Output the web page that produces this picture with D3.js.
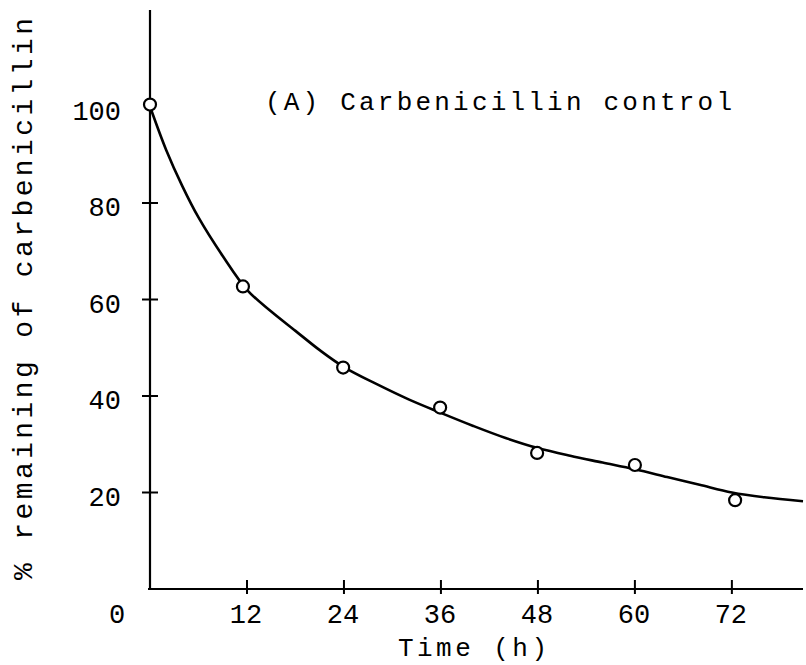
<!DOCTYPE html>
<html>
<head>
<meta charset="utf-8">
<script src="https://cdn.jsdelivr.net/npm/d3@7"></script>
<style>
  html, body { margin: 0; padding: 0; background: #fff; }
  svg text { font-family: "Liberation Mono", "Courier New", monospace; fill: #000; }
</style>
</head>
<body>
<svg id="chart" width="806" height="665"></svg>
<script>
// ---- data ----
const xTicks = [12, 24, 36, 48, 60, 72];
const yTicks = [20, 40, 60, 80];
const obsTime = [0, 11.5, 23.9, 35.9, 47.9, 60, 72.4];
const obsValue = [100.4, 62.7, 45.9, 37.6, 28.2, 25.7, 18.4];
const curveTime = [0, 2, 4, 6, 9, 12, 15, 18, 21, 24, 28, 32, 36, 40, 44, 48, 52, 56, 60, 64, 68, 72, 76, 80.8];
const curveValue = [100, 91, 83.5, 77, 69, 62, 57.5, 53.5, 49.5, 46, 42.5, 39.3, 36.5, 33.8, 31.3, 29.2, 27.6, 26.2, 24.8, 23.2, 21.6, 20.0, 19.0, 18.2];
const titleText = "(A) Carbenicillin control";
const xLabel = "Time (h)";
const yLabel = "% remaining of carbenicillin";

const svg = d3.select("#chart");
const x = d3.scaleLinear().domain([0, 80.8]).range([150, 803]);
const y = d3.scaleLinear().domain([0, 120]).range([589, 10]);

// axes lines
svg.append("line").attr("x1", x(0)).attr("x2", x(0)).attr("y1", y(120)).attr("y2", y(0) + 1)
  .attr("stroke", "#000").attr("stroke-width", 2.2);
svg.append("line").attr("x1", x(0) - 2).attr("x2", x(80.8)).attr("y1", y(0)).attr("y2", y(0))
  .attr("stroke", "#000").attr("stroke-width", 2.2);

// x ticks
svg.selectAll(".xt").data(xTicks).enter().append("line")
  .attr("x1", d => x(d)).attr("x2", d => x(d))
  .attr("y1", y(0) - 9).attr("y2", y(0) + 5)
  .attr("stroke", "#000").attr("stroke-width", 2);
svg.selectAll(".xl").data(xTicks).enter().append("text")
  .attr("x", d => x(d) - 1).attr("y", 623)
  .attr("text-anchor", "middle").attr("font-size", 27)
  .text(d => d);

// y ticks
svg.selectAll(".yt").data(yTicks).enter().append("line")
  .attr("x1", x(0) - 8).attr("x2", x(0) + 8)
  .attr("y1", d => y(d)).attr("y2", d => y(d))
  .attr("stroke", "#000").attr("stroke-width", 2);
svg.selectAll(".yl").data(yTicks.concat([100])).enter().append("text")
  .attr("x", 121).attr("y", d => y(d) + 13)
  .attr("text-anchor", "end").attr("font-size", 27)
  .text(d => d);
// corner zero
svg.append("text").attr("x", 117).attr("y", 623).attr("text-anchor", "middle")
  .attr("font-size", 27).text("0");

// fitted curve
const line = d3.line().x(d => x(d[0])).y(d => y(d[1])).curve(d3.curveCatmullRom);
svg.append("path").datum(d3.zip(curveTime, curveValue))
  .attr("d", line).attr("fill", "none").attr("stroke", "#000").attr("stroke-width", 2.6);

// observed points
svg.selectAll(".pt").data(d3.zip(obsTime, obsValue)).enter().append("circle")
  .attr("cx", d => x(d[0])).attr("cy", d => y(d[1])).attr("r", 6)
  .attr("fill", "#fff").attr("stroke", "#000").attr("stroke-width", 2.2);

// title
svg.append("text").attr("x", 265).attr("y", 110).attr("font-size", 26)
  .attr("textLength", 467).attr("lengthAdjust", "spacing").text(titleText);

// x label
svg.append("text").attr("x", 398).attr("y", 656).attr("font-size", 26)
  .attr("textLength", 149).attr("lengthAdjust", "spacing").text(xLabel);

// y label
svg.append("text").attr("transform", "translate(32,580) rotate(-90)")
  .attr("font-size", 28).attr("textLength", 562).attr("lengthAdjust", "spacing").text(yLabel);
</script>
</body>
</html>
